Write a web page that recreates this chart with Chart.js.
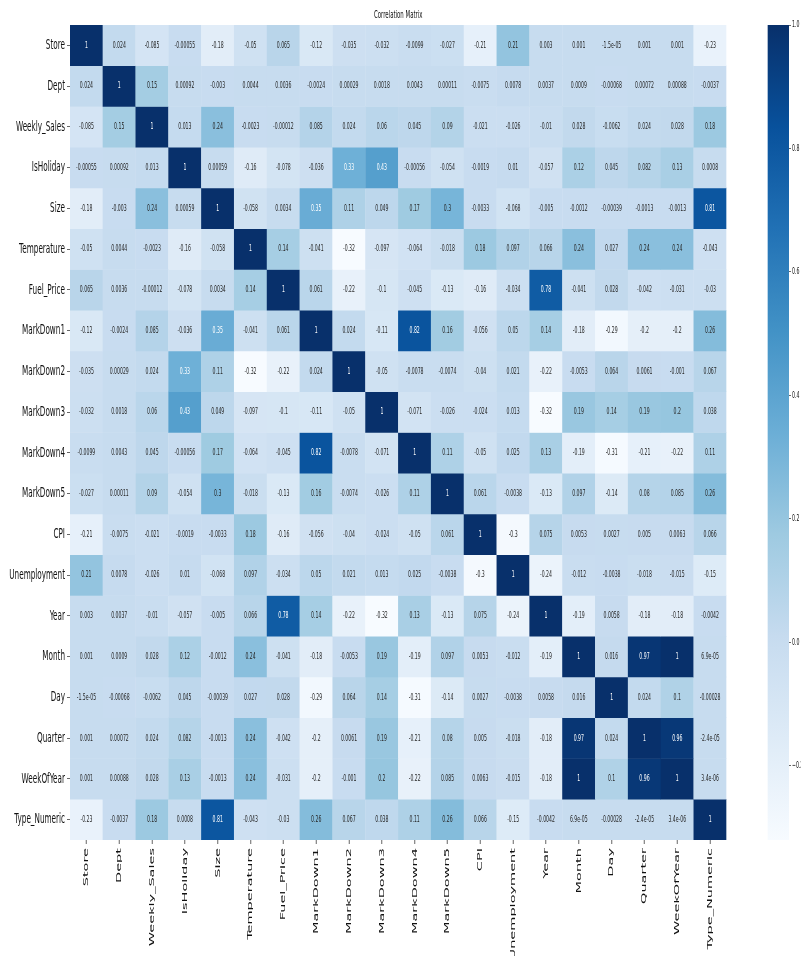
<!DOCTYPE html>
<html>
<head>
<meta charset="utf-8">
<title>Correlation Matrix</title>
<script src="https://cdn.jsdelivr.net/npm/chart.js@4.4.1/dist/chart.umd.min.js"></script>
<style>
  html, body { margin: 0; padding: 0; background: #ffffff; overflow: hidden; }
  #page { position: relative; width: 801px; height: 956px; overflow: hidden; }
  #page canvas { position: absolute; left: 0; top: 0; }
</style>
</head>
<body>
<div id="page">
  <canvas id="heat" width="1602" height="956"></canvas>
  <canvas id="cbar" width="1602" height="956"></canvas>
</div>
<script>
// ---- data -------------------------------------------------------------
const features = ['Store', 'Dept', 'Weekly_Sales', 'IsHoliday', 'Size', 'Temperature',
  'Fuel_Price', 'MarkDown1', 'MarkDown2', 'MarkDown3', 'MarkDown4', 'MarkDown5', 'CPI',
  'Unemployment', 'Year', 'Month', 'Day', 'Quarter', 'WeekOfYear', 'Type_Numeric'];

const corrStore        = [1, 0.024, -0.085, -0.00055, -0.18, -0.05, 0.065, -0.12, -0.035, -0.032, -0.0099, -0.027, -0.21, 0.21, 0.003, 0.001, -1.5e-05, 0.001, 0.001, -0.23];
const corrDept         = [0.024, 1, 0.15, 0.00092, -0.003, 0.0044, 0.0036, -0.0024, 0.00029, 0.0018, 0.0043, 0.00011, -0.0075, 0.0078, 0.0037, 0.0009, -0.00068, 0.00072, 0.00088, -0.0037];
const corrWeeklySales  = [-0.085, 0.15, 1, 0.013, 0.24, -0.0023, -0.00012, 0.085, 0.024, 0.06, 0.045, 0.09, -0.021, -0.026, -0.01, 0.028, -0.0062, 0.024, 0.028, 0.18];
const corrIsHoliday    = [-0.00055, 0.00092, 0.013, 1, 0.00059, -0.16, -0.078, -0.036, 0.33, 0.43, -0.00056, -0.054, -0.0019, 0.01, -0.057, 0.12, 0.045, 0.082, 0.13, 0.0008];
const corrSize         = [-0.18, -0.003, 0.24, 0.00059, 1, -0.058, 0.0034, 0.35, 0.11, 0.049, 0.17, 0.3, -0.0033, -0.068, -0.005, -0.0012, -0.00039, -0.0013, -0.0013, 0.81];
const corrTemperature  = [-0.05, 0.0044, -0.0023, -0.16, -0.058, 1, 0.14, -0.041, -0.32, -0.097, -0.064, -0.018, 0.18, 0.097, 0.066, 0.24, 0.027, 0.24, 0.24, -0.043];
const corrFuelPrice    = [0.065, 0.0036, -0.00012, -0.078, 0.0034, 0.14, 1, 0.061, -0.22, -0.1, -0.045, -0.13, -0.16, -0.034, 0.78, -0.041, 0.028, -0.042, -0.031, -0.03];
const corrMarkDown1    = [-0.12, -0.0024, 0.085, -0.036, 0.35, -0.041, 0.061, 1, 0.024, -0.11, 0.82, 0.16, -0.056, 0.05, 0.14, -0.18, -0.29, -0.2, -0.2, 0.26];
const corrMarkDown2    = [-0.035, 0.00029, 0.024, 0.33, 0.11, -0.32, -0.22, 0.024, 1, -0.05, -0.0078, -0.0074, -0.04, 0.021, -0.22, -0.0053, 0.064, 0.0061, -0.001, 0.067];
const corrMarkDown3    = [-0.032, 0.0018, 0.06, 0.43, 0.049, -0.097, -0.1, -0.11, -0.05, 1, -0.071, -0.026, -0.024, 0.013, -0.32, 0.19, 0.14, 0.19, 0.2, 0.038];
const corrMarkDown4    = [-0.0099, 0.0043, 0.045, -0.00056, 0.17, -0.064, -0.045, 0.82, -0.0078, -0.071, 1, 0.11, -0.05, 0.025, 0.13, -0.19, -0.31, -0.21, -0.22, 0.11];
const corrMarkDown5    = [-0.027, 0.00011, 0.09, -0.054, 0.3, -0.018, -0.13, 0.16, -0.0074, -0.026, 0.11, 1, 0.061, -0.0038, -0.13, 0.097, -0.14, 0.08, 0.085, 0.26];
const corrCPI          = [-0.21, -0.0075, -0.021, -0.0019, -0.0033, 0.18, -0.16, -0.056, -0.04, -0.024, -0.05, 0.061, 1, -0.3, 0.075, 0.0053, 0.0027, 0.005, 0.0063, 0.066];
const corrUnemployment = [0.21, 0.0078, -0.026, 0.01, -0.068, 0.097, -0.034, 0.05, 0.021, 0.013, 0.025, -0.0038, -0.3, 1, -0.24, -0.012, -0.0038, -0.018, -0.015, -0.15];
const corrYear         = [0.003, 0.0037, -0.01, -0.057, -0.005, 0.066, 0.78, 0.14, -0.22, -0.32, 0.13, -0.13, 0.075, -0.24, 1, -0.19, 0.0058, -0.18, -0.18, -0.0042];
const corrMonth        = [0.001, 0.0009, 0.028, 0.12, -0.0012, 0.24, -0.041, -0.18, -0.0053, 0.19, -0.19, 0.097, 0.0053, -0.012, -0.19, 1, 0.016, 0.97, 1, 6.9e-05];
const corrDay          = [-1.5e-05, -0.00068, -0.0062, 0.045, -0.00039, 0.027, 0.028, -0.29, 0.064, 0.14, -0.31, -0.14, 0.0027, -0.0038, 0.0058, 0.016, 1, 0.024, 0.1, -0.00028];
const corrQuarter      = [0.001, 0.00072, 0.024, 0.082, -0.0013, 0.24, -0.042, -0.2, 0.0061, 0.19, -0.21, 0.08, 0.005, -0.018, -0.18, 0.97, 0.024, 1, 0.96, -2.4e-05];
const corrWeekOfYear   = [0.001, 0.00088, 0.028, 0.13, -0.0013, 0.24, -0.031, -0.2, -0.001, 0.2, -0.22, 0.085, 0.0063, -0.015, -0.18, 1, 0.1, 0.96, 1, 3.4e-06];
const corrTypeNumeric  = [-0.23, -0.0037, 0.18, 0.0008, 0.81, -0.043, -0.03, 0.26, 0.067, 0.038, 0.11, 0.26, 0.066, -0.15, -0.0042, 6.9e-05, -0.00028, -2.4e-05, 3.4e-06, 1];

const colorbarTicks = [1.0, 0.8, 0.6, 0.4, 0.2, 0.0, -0.2];

// ---- helpers ----------------------------------------------------------
const matrix = [corrStore, corrDept, corrWeeklySales, corrIsHoliday, corrSize, corrTemperature,
  corrFuelPrice, corrMarkDown1, corrMarkDown2, corrMarkDown3, corrMarkDown4, corrMarkDown5, corrCPI,
  corrUnemployment, corrYear, corrMonth, corrDay, corrQuarter, corrWeekOfYear, corrTypeNumeric];

const vmin = Math.min(...matrix.flat());
const vmax = 1;

// The figure is laid out twice as wide as the page and drawn
// compressed horizontally into it.
const SQUEEZE = 0.5;
const squeeze = {
  id: 'squeeze',
  beforeDraw(chart) { chart.ctx.setTransform(SQUEEZE, 0, 0, 1, 0, 0); }
};

// matplotlib "Blues" colour map
const BLUES = ['#f7fbff', '#deebf7', '#c6dbef', '#9ecae1', '#6baed6', '#4292c6', '#2171b5', '#08519c', '#08306b'];
const BLUES_RGB = BLUES.map(h => [1, 3, 5].map(k => parseInt(h.substr(k, 2), 16)));

function bluesRGB(v) {
  let t = (v - vmin) / (vmax - vmin);
  t = Math.max(0, Math.min(1, t));
  const pos = t * (BLUES_RGB.length - 1);
  const i = Math.min(Math.floor(pos), BLUES_RGB.length - 2);
  const f = pos - i;
  return BLUES_RGB[i].map((c, k) => Math.round(c + (BLUES_RGB[i + 1][k] - c) * f));
}
const rgbStr = c => `rgb(${c[0]},${c[1]},${c[2]})`;

// dark text on light cells, white text on dark cells
function textColor(v) {
  const lin = bluesRGB(v).map(c => {
    c /= 255;
    return c <= 0.03928 ? c / 12.92 : Math.pow((c + 0.055) / 1.055, 2.4);
  });
  const lum = 0.2126 * lin[0] + 0.7152 * lin[1] + 0.0722 * lin[2];
  return lum > 0.408 ? 'rgb(38,38,38)' : '#ffffff';
}

// two significant digits, "%g" style
function fmtG(v) {
  if (v === 0) return '0';
  const e = Math.floor(Math.log10(Math.abs(v)));
  if (e < -4 || e >= 2) {
    let [m, ex] = v.toExponential(1).split('e');
    m = m.replace(/\.?0+$/, '');
    const n = parseInt(ex, 10);
    return m + 'e' + (n < 0 ? '-' : '+') + String(Math.abs(n)).padStart(2, '0');
  }
  let s = v.toPrecision(2);
  if (s.indexOf('.') >= 0) s = s.replace(/0+$/, '').replace(/\.$/, '');
  return s;
}

const FONT = 'DejaVu Sans';
const INK = '#111111';

// ---- heatmap ----------------------------------------------------------
const cellLabels = {
  id: 'cellLabels',
  afterDatasetsDraw(chart) {
    const ctx = chart.ctx;
    ctx.save();
    ctx.font = `9.2px "${FONT}"`;
    ctx.textAlign = 'center';
    ctx.textBaseline = 'middle';
    chart.data.datasets.forEach((ds, i) => {
      chart.getDatasetMeta(i).data.forEach((bar, j) => {
        const v = ds.corr[j];
        const p = bar.getCenterPoint();
        ctx.fillStyle = textColor(v);
        ctx.fillText(fmtG(v), p.x, p.y);
      });
    });
    ctx.restore();
  }
};

const datasets = matrix.map((row, i) => ({
  label: features[i],
  corr: row,
  data: row.map(() => [i - 0.5, i + 0.5]),
  backgroundColor: row.map(v => rgbStr(bluesRGB(v))),
  borderWidth: 0,
  barPercentage: 1,
  categoryPercentage: 1,
  grouped: false
}));

new Chart(document.getElementById('heat'), {
  type: 'bar',
  data: { labels: features, datasets },
  plugins: [squeeze, cellLabels],
  options: {
    responsive: false,
    animation: false,
    devicePixelRatio: 1,
    layout: { padding: { left: 0, right: 149, top: 0, bottom: 0 } },
    plugins: {
      legend: { display: false },
      tooltip: { enabled: false },
      title: {
        display: true,
        text: 'Correlation Matrix',
        fullSize: false,
        color: INK,
        font: { family: FONT, size: 10.8, weight: 'normal' },
        padding: { top: 8.5, bottom: 3.5 }
      }
    },
    scales: {
      x: {
        type: 'category',
        offset: true,
        afterFit: s => { s.height = 116; },
        ticks: {
          autoSkip: false, minRotation: 90, maxRotation: 90,
          color: INK, padding: 4,
          font: { family: FONT, size: 14.5 }
        },
        grid: { offset: false, drawOnChartArea: false, drawTicks: true, tickLength: 4, color: '#333333' },
        border: { display: false }
      },
      y: {
        type: 'linear',
        reverse: true,
        min: -0.5,
        max: features.length - 0.5,
        afterBuildTicks: s => { s.ticks = features.map((_, i) => ({ value: i })); },
        afterFit: s => { s.width = 140; },
        ticks: {
          autoSkip: false,
          callback: v => features[v],
          color: INK, padding: 4,
          font: { family: FONT, size: 14.5 }
        },
        grid: { drawOnChartArea: false, drawTicks: true, tickLength: 6, color: '#333333' },
        border: { display: false }
      }
    }
  }
});

// ---- colour bar -------------------------------------------------------
new Chart(document.getElementById('cbar'), {
  type: 'bar',
  data: {
    labels: [''],
    datasets: [{
      data: [[vmin, vmax]],
      borderWidth: 0,
      barPercentage: 1,
      categoryPercentage: 1,
      backgroundColor: c => {
        const { chart } = c;
        if (!chart.chartArea) return BLUES[4];
        const y = chart.scales.y;
        const g = chart.ctx.createLinearGradient(0, y.getPixelForValue(vmin), 0, y.getPixelForValue(vmax));
        BLUES.forEach((col, k) => g.addColorStop(k / (BLUES.length - 1), col));
        return g;
      }
    }]
  },
  plugins: [squeeze],
  options: {
    responsive: false,
    animation: false,
    devicePixelRatio: 1,
    layout: { padding: { left: 1535, right: 0, top: 25, bottom: 116 } },
    plugins: { legend: { display: false }, tooltip: { enabled: false }, title: { display: false } },
    scales: {
      x: { display: false, offset: true },
      y: {
        type: 'linear',
        position: 'right',
        min: vmin,
        max: vmax,
        afterBuildTicks: s => { s.ticks = colorbarTicks.map(v => ({ value: v })); },
        afterFit: s => { s.width = 24; },
        ticks: {
          callback: v => (v < 0 ? '\u2212' : '') + Math.abs(v).toFixed(1),
          color: INK, padding: 2,
          font: { family: FONT, size: 9.3 }
        },
        grid: { drawOnChartArea: false, drawTicks: true, tickLength: 4, color: '#333333' },
        border: { display: false }
      }
    }
  }
});
</script>
</body>
</html>
